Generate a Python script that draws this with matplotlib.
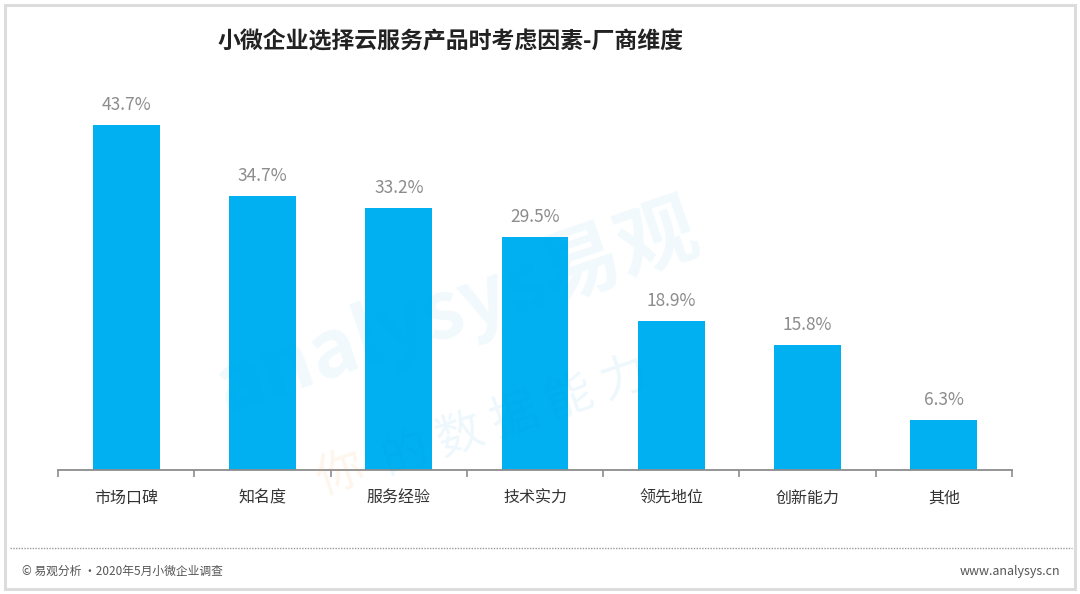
import matplotlib
matplotlib.use("Agg")
import matplotlib.pyplot as plt
from matplotlib.patches import Rectangle
from matplotlib.lines import Line2D

plt.rcParams['font.family'] = ['Noto Sans CJK SC', 'DejaVu Sans']

title = "小微企业选择云服务产品时考虑因素-厂商维度"
categories = ["市场口碑", "知名度", "服务经验", "技术实力", "领先地位", "创新能力", "其他"]
values = [43.7, 34.7, 33.2, 29.5, 18.9, 15.8, 6.3]
value_labels = ["43.7%", "34.7%", "33.2%", "29.5%", "18.9%", "15.8%", "6.3%"]
source = "© 易观分析 ·2020年5月小微企业调查"
website = "www.analysys.cn"

W, H = 1080, 594
fig = plt.figure(figsize=(W / 100, H / 100), dpi=100)
fig.patch.set_facecolor("white")

# outer border
fig.patches.append(Rectangle((5 / W, 5 / H), 1070 / W, 584 / H, transform=fig.transFigure,
                             fill=False, edgecolor="#DCDCDC", linewidth=2.2))

# watermark
fig.text(205 / W, 1 - 430 / H, "analysys易观", fontsize=58, fontweight="bold", color="#00A0E0",
         alpha=0.06, rotation=19, ha="left", va="bottom")
fig.text(310 / W, 1 - 505 / H, "你", fontsize=34, color="#F5A050",
         alpha=0.10, rotation=19, ha="left", va="bottom")
fig.text(375 / W, 1 - 485 / H, "的 数 据 能 力", fontsize=34, color="#00A0E0",
         alpha=0.07, rotation=19, ha="left", va="bottom")

ax_left, ax_right = 58, 1012
base_y, top_y = 470, 90
ax = fig.add_axes([ax_left / W, (H - base_y) / H, (ax_right - ax_left) / W, (base_y - top_y) / H])
ax.set_facecolor("none")

x = list(range(len(categories)))
ax.bar(x, values, width=0.49, color="#00B0F0", zorder=2)
ax.set_xlim(-0.5, len(categories) - 0.5)
ax.set_ylim(0, (base_y - top_y) / 7.9)

for xi, v, lab in zip(x, values, value_labels):
    ax.annotate(lab, (xi, v), xytext=(0, 8), textcoords="offset points", ha="center", va="bottom",
                fontsize=12.5, color="#8C8C8C")

for s in ["top", "right", "left"]:
    ax.spines[s].set_visible(False)
ax.spines["bottom"].set_color("#8C8C8C")
ax.spines["bottom"].set_linewidth(1.3)
ax.set_yticks([])
ax.set_xticks(x)
ax.set_xticklabels(categories, fontsize=11.5, color="#333333")
ax.tick_params(axis="x", length=0, pad=14)
ax.set_xticks([i - 0.5 for i in range(len(categories) + 1)], minor=True)
ax.tick_params(axis="x", which="minor", length=5, width=1.2, color="#8C8C8C", direction="out")

fig.text(451 / W, 1 - 42 / H, title, fontsize=16.5, fontweight="bold", color="#222222",
         ha="center", va="center")

# footer dotted line
fig.add_artist(Line2D([10 / W, 1072 / W], [1 - 548 / H, 1 - 548 / H], transform=fig.transFigure,
                      color="#9A9A9A", linewidth=1.0, linestyle=(0, (1, 1))))
fig.text(22 / W, 1 - 571 / H, source, fontsize=8.5, color="#555555", ha="left", va="center")
fig.text(1060 / W, 1 - 571 / H, website, fontsize=9, color="#555555", ha="right", va="center")

fig.savefig("out.png", dpi=100, facecolor="white")
